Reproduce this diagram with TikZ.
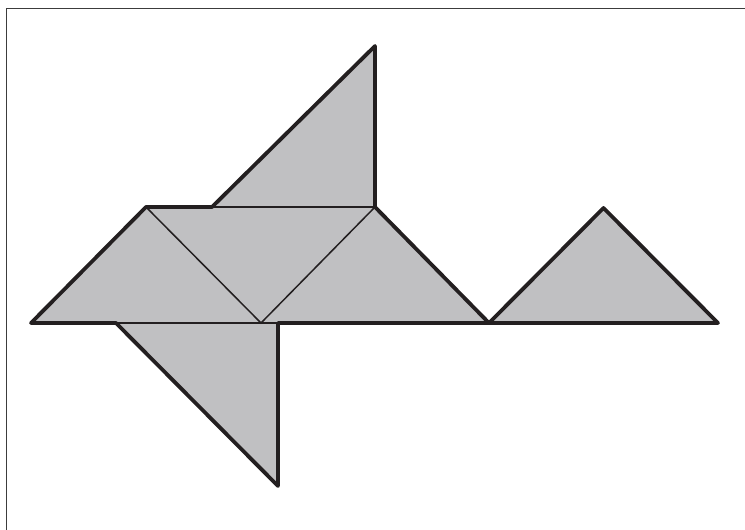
\documentclass[tikz,border=0pt]{standalone}
\definecolor{piece}{RGB}{192,192,194}
\definecolor{ink}{RGB}{35,31,32}
\definecolor{framec}{RGB}{60,60,60}
\tikzset{
  piecefill/.style={fill=piece, draw=none},
  thickedge/.style={draw=ink, line width=3.8pt, line join=round, line cap=round},
  thinedge/.style={draw=ink, line width=1.5pt, line cap=round},
  framestyle/.style={draw=framec, line width=1.2pt}
}
\begin{document}
\begin{tikzpicture}[x=1pt,y=-1pt]
\useasboundingbox (0,0) rectangle (745,530);
% frame
\coordinate (f1) at (6.5,530);
\coordinate (f2) at (6.5,8.5);
\coordinate (f3) at (745,8.5);
\draw[framestyle] (f1) -- (f2) -- (f3);
% vertices
\coordinate (A) at (31,323);
\coordinate (B) at (146,207);
\coordinate (C) at (375,207);
\coordinate (D) at (375,46);
\coordinate (E) at (212,207);
\coordinate (M) at (261,323);
\coordinate (F) at (489,323);
\coordinate (G) at (603.5,208);
\coordinate (H) at (718,323);
\coordinate (P) at (116,323);
\coordinate (Q) at (278,323);
\coordinate (R) at (278,486);
% fills
\fill[piecefill] (A) -- (B) -- (M) -- cycle;
\fill[piecefill] (B) -- (C) -- (M) -- cycle;
\fill[piecefill] (M) -- (C) -- (F) -- cycle;
\fill[piecefill] (E) -- (D) -- (C) -- cycle;
\fill[piecefill] (P) -- (Q) -- (R) -- cycle;
\fill[piecefill] (F) -- (G) -- (H) -- cycle;
% thin inner edges
\draw[thinedge] (B) -- (M) -- (C);
\draw[thinedge] (E) -- (C);
\draw[thinedge] (P) -- (Q);
% thick outline
\draw[thickedge] (R) -- (P) -- (A) -- (B) -- (E) -- (D) -- (C) -- (F) -- (G) -- (H) -- (F) -- (Q) -- (R);
\end{tikzpicture}
\end{document}
